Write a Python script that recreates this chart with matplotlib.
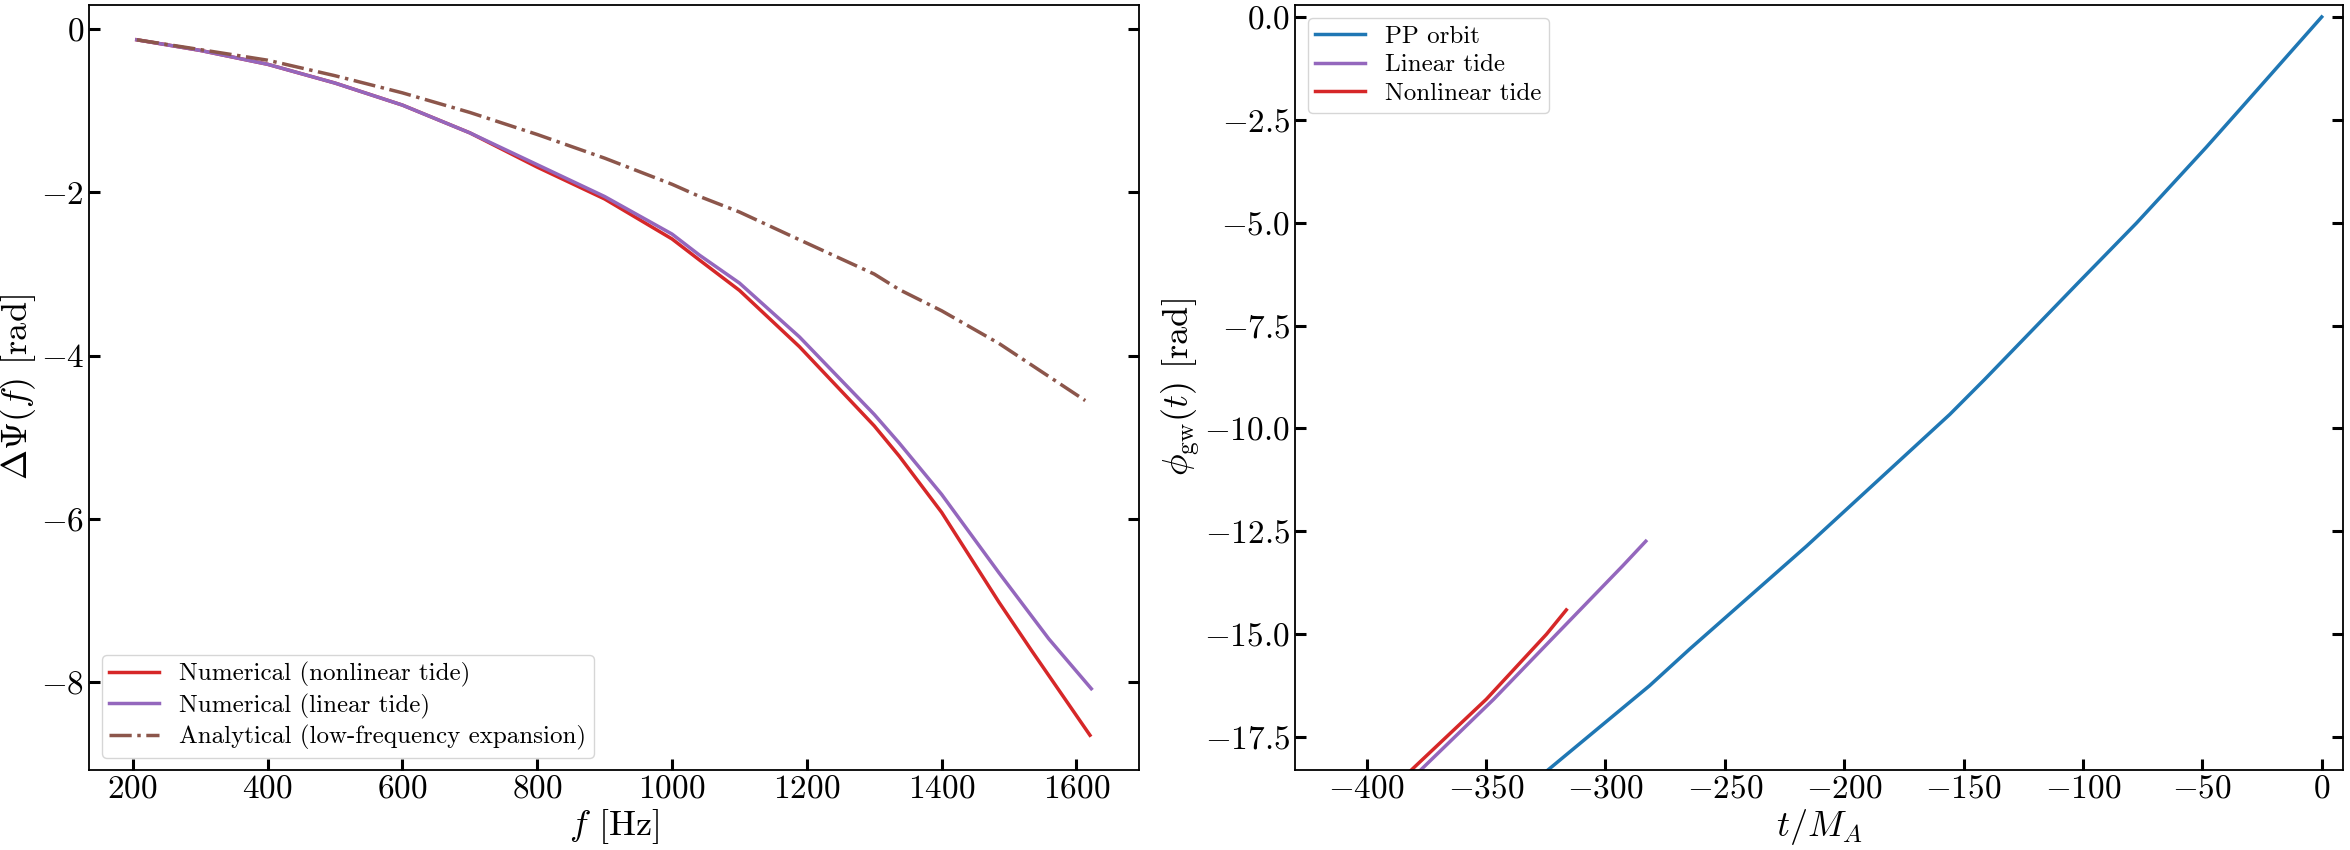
import matplotlib
matplotlib.use("Agg")
import matplotlib.pyplot as plt

plt.rcParams["font.family"] = "serif"
plt.rcParams["font.serif"] = ["cmr10"]
plt.rcParams["mathtext.fontset"] = "cm"
plt.rcParams["axes.formatter.use_mathtext"] = True
plt.rcParams["axes.unicode_minus"] = True

# left panel: dephasing vs frequency
freq_lin = [206, 300, 400, 500, 600, 700, 800, 900, 1000, 1041, 1100, 1189,
            1300, 1337, 1400, 1485, 1559, 1622]
dpsi_linear = [-0.13, -0.26, -0.43, -0.66, -0.93, -1.27, -1.66, -2.05, -2.51, -2.77,
               -3.11, -3.77, -4.72, -5.07, -5.70, -6.66, -7.47, -8.08]
freq_nl = [206, 300, 400, 500, 600, 700, 800, 900, 1000, 1041, 1100, 1189,
           1300, 1337, 1400, 1485, 1534, 1620]
dpsi_nonlinear = [-0.13, -0.26, -0.43, -0.66, -0.93, -1.27, -1.69, -2.08, -2.57, -2.83,
                  -3.20, -3.89, -4.86, -5.23, -5.92, -7.02, -7.62, -8.65]
freq_analytic = [206, 300, 400, 500, 600, 700, 800, 900, 1000, 1041, 1100, 1189,
                 1300, 1337, 1400, 1485, 1613]
dpsi_analytic = [-0.13, -0.25, -0.38, -0.57, -0.78, -1.02, -1.29, -1.58, -1.90, -2.05,
                 -2.24, -2.58, -3.00, -3.19, -3.45, -3.85, -4.55]

# right panel: GW phase vs time
t_pp = [-340.0, -324.1, -281.5, -264.7, -215.8, -155.8, -141.2, -102.0, -77.6,
        -67.9, -48.4, -34.3, 0.0]
phi_pp = [-19.05, -18.30, -16.25, -15.36, -12.86, -9.66, -8.81, -6.46, -5.01,
          -4.40, -3.17, -2.25, 0.0]
t_lin = [-392.0, -377.4, -346.8, -320.5, -292.8, -283.1]
phi_lin = [-19.10, -18.30, -16.58, -15.00, -13.34, -12.74]
t_nl = [-395.0, -381.3, -349.9, -324.7, -316.4]
phi_nl = [-19.05, -18.30, -16.58, -15.00, -14.41]

fig = plt.figure(figsize=(23.5, 8.5), dpi=100)
ax1 = fig.add_axes([0.0379, 0.0941, 0.4468, 0.9])
ax2 = fig.add_axes([0.5511, 0.0941, 0.446, 0.9])

lw = 2.5
ax1.plot(freq_nl, dpsi_nonlinear, color="#d62728", lw=lw, label="Numerical (nonlinear tide)")
ax1.plot(freq_lin, dpsi_linear, color="#9467bd", lw=lw, label="Numerical (linear tide)")
ax1.plot(freq_analytic, dpsi_analytic, color="#8c564b", lw=lw, ls="-.",
         label="Analytical (low-frequency expansion)")
ax1.set_xlabel(r"$f$ [Hz]", fontsize=26, labelpad=2)
ax1.set_ylabel(r"$\Delta\Psi(f)$ [rad]", fontsize=26, labelpad=2)
ax1.legend(loc="lower left", fontsize=18, handlelength=2.0, borderpad=0.3, labelspacing=0.25)

ax2.plot(t_pp, phi_pp, color="#1f77b4", lw=lw, label="PP orbit")
ax2.plot(t_lin, phi_lin, color="#9467bd", lw=lw, label="Linear tide")
ax2.plot(t_nl, phi_nl, color="#d62728", lw=lw, label="Nonlinear tide")
ax2.set_xlim(-430, 9)
ax2.set_ylim(-18.3, 0.29)
ax2.set_xlabel(r"$t/M_A$", fontsize=26, labelpad=2)
ax2.set_ylabel(r"$\phi_{\rm gw}(t)$ [rad]", fontsize=26, labelpad=2)
ax2.legend(loc="upper left", fontsize=18, handlelength=2.0, borderpad=0.3, labelspacing=0.25)

for ax in (ax1, ax2):
    ax.tick_params(direction="in", which="both", right=True, top=False,
                   length=8, width=2.2, labelsize=24)
    for sp in ax.spines.values():
        sp.set_linewidth(1.3)

fig.savefig("out.png", dpi=100)
